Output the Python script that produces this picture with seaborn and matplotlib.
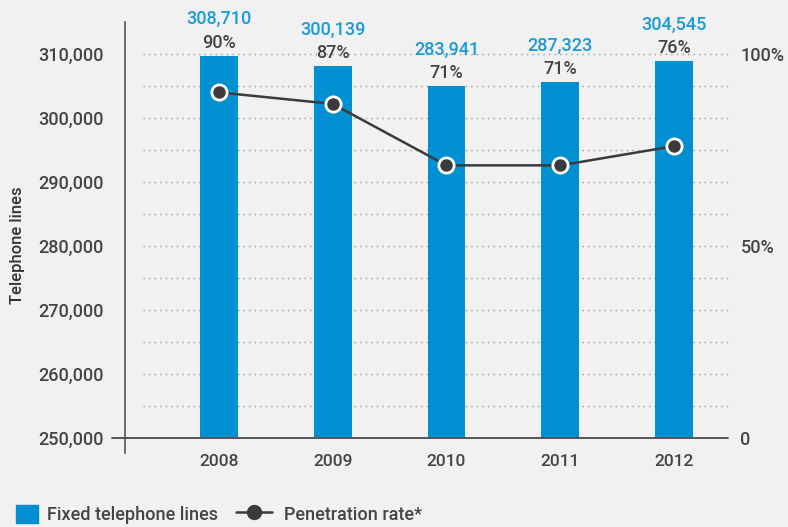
import numpy as np
import pandas as pd
import seaborn as sns
import matplotlib
matplotlib.use("Agg")
import matplotlib.pyplot as plt
from matplotlib.patches import Patch
from matplotlib.lines import Line2D

# data
years = ["2008", "2009", "2010", "2011", "2012"]
fixed_lines = [308710, 300139, 283941, 287323, 304545]
penetration = [90, 87, 71, 71, 76]
left_tick_labels = ["250,000", "260,000", "270,000", "280,000", "290,000", "300,000", "310,000"]
right_tick_labels = ["0", "50%", "100%"]

df = pd.DataFrame({"year": years, "lines": fixed_lines, "rate": penetration})

# feel and look
sns.set_style("white")
plt.rcParams["font.family"] = ["Roboto", "DejaVu Sans"]
plt.rcParams["font.weight"] = "medium"

bg = "#f1f1f1"
blue = "#008fd0"
blue_txt = "#1a9ad6"
dark = "#3b3b3d"
txt = "#444444"

W, H = 788, 527
def box(l, t, r, b):
    return [l / W, 1 - b / H, (r - l) / W, (b - t) / H]

fig = plt.figure(figsize=(W / 100, H / 100), dpi=100, facecolor=bg)
ax = fig.add_axes(box(125, 22, 730, 453))
ax.set_facecolor(bg)

# category spacing / scale in the picture
step = 113.75
x0 = 219
xl = ((125 - x0) / step, (730 - x0) / step)
top = 310000
per_px = top / 384
yl = (-15 * per_px, top + 32 * per_px)

sns.barplot(data=df, x="year", y="lines", color=blue, width=0.334,
            saturation=1, linewidth=0, ax=ax, zorder=2)

# dotted grid
grid_y = np.arange(1, 13) * top / 12
ax.hlines(grid_y, (143 - x0) / step, xl[1], colors="#9a9a9a",
          linestyles=(0, (1, 3)), linewidth=1, zorder=0)
# base line, runs a bit to the left of the spine
ax.plot([(112 - x0) / step, (728 - x0) / step], [0, 0], color="#555555",
        lw=1.4, clip_on=False, zorder=3)

ax.set_xlim(*xl)
ax.set_ylim(*yl)
ax.set_yticks(np.linspace(0, top, len(left_tick_labels)), left_tick_labels)
ax.tick_params(axis="y", length=0, pad=15.5, labelsize=13, labelcolor=txt)
ax.tick_params(axis="x", length=0, pad=1, labelsize=12.5, labelcolor=txt)
ax.set_xlabel("")
ax.set_ylabel("")
for s in ["top", "right", "bottom"]:
    ax.spines[s].set_visible(False)
ax.spines["left"].set_color("#555555")
ax.spines["left"].set_linewidth(1.2)

# value labels above bars
for i, (v, r) in enumerate(zip(fixed_lines, penetration)):
    ax.annotate(f"{v:,}", (i, v), xytext=(0, 22.5), textcoords="offset points",
                ha="center", va="baseline", color=blue_txt, fontsize=13)
    ax.annotate(f"{r}%", (i, v), xytext=(0, 5.8), textcoords="offset points",
                ha="center", va="baseline", color=txt, fontsize=13)

# penetration rate on the right axis
ax2 = ax.twinx()
sns.lineplot(x=np.arange(len(years)), y=penetration, ax=ax2, color=dark,
             lw=1.8, marker="o", markersize=11, markerfacecolor=dark,
             markeredgecolor="white", markeredgewidth=2, zorder=4)
ax2.set_ylim(yl[0] / top * 100, yl[1] / top * 100)
ax2.set_yticks([0, 50, 100], right_tick_labels)
ax2.tick_params(axis="y", length=0, pad=7.5, labelsize=13, labelcolor=txt)
for s in ax2.spines.values():
    s.set_visible(False)
ax2.set_xlim(*xl)

fig.text(18 / W, 1 - 245 / H, "Telephone lines", rotation=90, ha="center",
         va="center", fontsize=12, color="#333333")

# legend
em = 13 * 100 / 72
fig.legend(handles=[Patch(color=blue)], labels=["Fixed telephone lines"],
           loc="lower left", bbox_to_anchor=(16 / W, 3 / H), frameon=False,
           handlelength=22 / em, handleheight=22 / em, handletextpad=9 / em,
           borderpad=0, borderaxespad=0, fontsize=13, labelcolor=txt)
fig.legend(handles=[Line2D([], [], color=dark, lw=1.8, marker="o", markersize=10,
                           markerfacecolor=dark, markeredgecolor=dark)],
           labels=["Penetration rate*"], loc="lower left",
           bbox_to_anchor=(236 / W, 3 / H), frameon=False,
           handlelength=36 / em, handleheight=22 / em, handletextpad=12 / em,
           borderpad=0, borderaxespad=0, fontsize=13, labelcolor=txt)

fig.savefig("out.png", dpi=100, facecolor=bg)
